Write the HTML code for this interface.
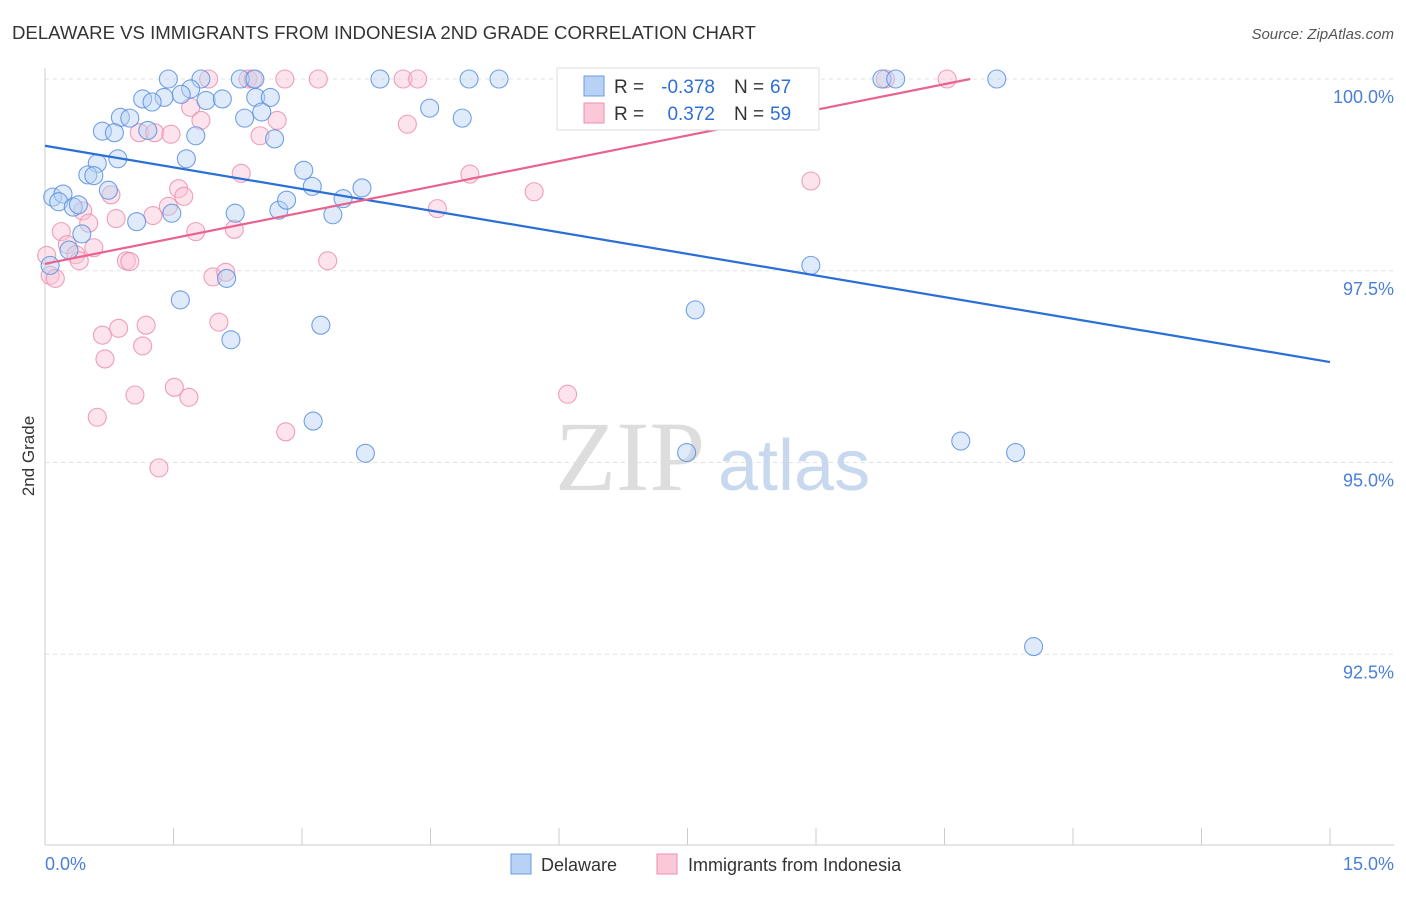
<!DOCTYPE html>
<html><head><meta charset="utf-8"><style>
body{margin:0;background:#fff;font-family:"Liberation Sans",sans-serif}
</style></head><body>
<svg width="1406" height="892" xmlns="http://www.w3.org/2000/svg" font-family="Liberation Sans, sans-serif">
<text x="12" y="39" font-size="18.6" fill="#333">DELAWARE VS IMMIGRANTS FROM INDONESIA 2ND GRADE CORRELATION CHART</text>
<text x="1394" y="39" font-size="15" fill="#555" text-anchor="end" font-style="italic">Source: ZipAtlas.com</text>
<g id="grid"></g>
<text x="555" y="490" font-size="100" fill="#ddd" font-family="Liberation Serif, serif">ZIP</text>
<text x="718" y="490" font-size="72" fill="#c8d8ee">atlas</text>
<line x1="45" y1="68" x2="45" y2="845" stroke="#ccc"/>
<line x1="45" y1="845" x2="1394" y2="845" stroke="#ccc"/>
<g id="ticks"></g>
<g id="ylabels"></g>
<text x="45" y="870" font-size="18" fill="#4a7fd6">0.0%</text>
<text x="1394" y="870" font-size="18" fill="#4a7fd6" text-anchor="end">15.0%</text>
<text transform="translate(34,456) rotate(-90)" font-size="17" fill="#333" text-anchor="middle">2nd Grade</text>
<g id="pink"></g>
<g id="blue"></g>
<g id="lines"></g>
<g font-size="19">
<rect x="557" y="68" width="262" height="62" fill="#fff" stroke="#ddd"/>
<rect x="584" y="76" width="20" height="20" fill="#b8d2f5" stroke="#6a9be0"/>
<rect x="584" y="103" width="20" height="20" fill="#fbc8d8" stroke="#eb8fae"/>
<text x="614" y="93" fill="#333">R =</text>
<text x="715" y="93" fill="#2f6fd6" text-anchor="end">-0.378</text>
<text x="734" y="93" fill="#333">N =</text>
<text x="770" y="93" fill="#2f6fd6">67</text>
<text x="614" y="120" fill="#333">R =</text>
<text x="715" y="120" fill="#2f6fd6" text-anchor="end">0.372</text>
<text x="734" y="120" fill="#333">N =</text>
<text x="770" y="120" fill="#2f6fd6">59</text>
</g>
<g>
<rect x="511" y="854" width="20" height="20" fill="#b8d2f5" stroke="#6a9be0"/>
<text x="541" y="871" font-size="18" fill="#333">Delaware</text>
<rect x="657" y="854" width="20" height="20" fill="#fbc8d8" stroke="#eb8fae"/>
<text x="688" y="871" font-size="18" fill="#333">Immigrants from Indonesia</text>
</g>
</svg>
<script>
const yTicks=[100,97.5,95,92.5];
const yTickLabels=["100.0%","97.5%","95.0%","92.5%"];
const xTicks=[0,1.5,3,4.5,6,7.5,9,10.5,12,13.5,15];
const blueX=[1.44,1.82,2.28,2.45,3.91,4.95,5.3,9.77,9.93,11.11,1.70,1.59,1.39,1.14,1.25,1.88,2.07,2.46,2.63,0.88,0.99,1.20,0.67,0.81,2.33,2.53,4.49,4.87,1.76,2.68,0.85,0.61,1.65,0.50,0.57,3.02,3.12,3.70,0.74,0.09,0.21,0.16,0.33,0.39,1.48,2.22,2.73,2.82,3.48,3.36,1.07,0.43,0.28,0.06,2.12,1.58,2.17,3.22,8.94,7.59,3.13,3.74,7.49,10.69,11.33,11.54];
const blueY=[100,100,100,100,100,100,100,100,100,100,99.87,99.8,99.76,99.74,99.7,99.72,99.74,99.76,99.76,99.5,99.49,99.33,99.32,99.3,99.49,99.57,99.62,99.49,99.26,99.22,98.96,98.9,98.96,98.75,98.74,98.81,98.6,98.58,98.55,98.46,98.5,98.4,98.33,98.36,98.25,98.25,98.29,98.42,98.44,98.23,98.14,97.98,97.77,97.57,97.4,97.12,96.6,96.79,97.57,96.99,95.54,95.12,95.13,95.28,95.13,92.6];
const pinkX=[1.91,2.37,2.43,2.80,3.19,4.18,4.35,9.81,10.53,1.70,1.82,2.71,4.23,1.10,1.28,1.47,2.51,2.29,4.96,5.71,8.94,1.56,1.62,0.77,1.44,1.26,0.44,0.51,0.83,1.76,2.21,4.58,0.19,0.26,0.57,0.36,0.40,0.95,0.99,3.30,0.02,0.06,0.12,1.96,2.11,0.67,0.86,1.18,1.14,2.03,0.70,1.05,1.68,1.51,0.61,2.81,1.33,6.10];
const pinkY=[100,100,100,100,100,100,100,100,100,99.63,99.46,99.46,99.41,99.30,99.30,99.28,99.26,98.77,98.76,98.53,98.67,98.57,98.47,98.49,98.34,98.22,98.28,98.12,98.18,98.01,98.04,98.31,98.01,97.84,97.80,97.71,97.63,97.63,97.62,97.63,97.70,97.44,97.40,97.42,97.48,96.66,96.75,96.79,96.52,96.83,96.35,95.88,95.85,95.98,95.59,95.40,94.93,95.89];
const blueTrend=[[0,99.13],[15,96.31]];
const pinkTrend=[[0,97.59],[10.8,100]];
const X=v=>45+v*(1285/15), Y=v=>79+(100-v)*76.7;
const NS="http://www.w3.org/2000/svg";
function mk(t,a,p){const e=document.createElementNS(NS,t);for(const k in a)e.setAttribute(k,a[k]);p.appendChild(e);return e;}
const grid=document.getElementById('grid'),yl=document.getElementById('ylabels');
yTicks.forEach((t,i)=>{const l=mk('line',{x1:45,x2:1394,y1:Y(t),y2:Y(t),stroke:'#e2e2e2','stroke-dasharray':'4,4'},grid);


const tx=mk('text',{x:1394,y:Y(t)+24,'font-size':18,fill:'#4a7fd6','text-anchor':'end'},yl);tx.textContent=yTickLabels[i];

});
const tk=document.getElementById('ticks');
xTicks.forEach(t=>{const l=mk('line',{x1:X(t),x2:X(t),y1:828,y2:845,stroke:'#ccc'},tk);

});
function pts(xs,ys,g,fill,stroke,name){xs.forEach((x,i)=>{const c=mk('circle',{cx:X(x),cy:Y(ys[i]),r:9,fill:fill,'fill-opacity':0.45,stroke:stroke,'stroke-width':1.1,'stroke-opacity':0.85},document.getElementById(g));

});}
pts(pinkX,pinkY,'pink','#fbc3d5','#eb8fae','indonesia-point');
pts(blueX,blueY,'blue','#b8d2f5','#5a8fe0','delaware-point');
const lg=document.getElementById('lines');
const b=mk('line',{x1:X(blueTrend[0][0]),y1:Y(blueTrend[0][1]),x2:X(blueTrend[1][0]),y2:Y(blueTrend[1][1]),stroke:'#2a6fd6','stroke-width':2.2},lg);


const p=mk('line',{x1:X(pinkTrend[0][0]),y1:Y(pinkTrend[0][1]),x2:X(pinkTrend[1][0]),y2:Y(pinkTrend[1][1]),stroke:'#e8638f','stroke-width':2.2},lg);


</script>
</body></html>
